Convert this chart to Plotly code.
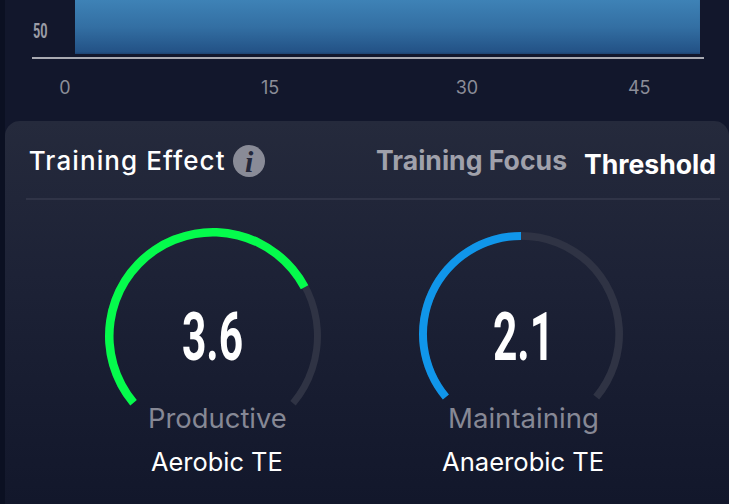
import numpy as np
import plotly.graph_objects as go

W, H = 729, 504
# ---- data
bar_start = [0.78]
bar_end = [49.76]
bar_value = [160]
x_tick_labels = ["0", "15", "30", "45"]
x_tick_pos = [0, 16.07, 31.5, 45]
y_tick_vals = [50]
gauge_values = ["3.6", "2.1"]
gauge_fill_deg = [192, 130]
gauge_status = ["Productive", "Maintaining"]
gauge_names = ["Aerobic TE", "Anaerobic TE"]
gauge_colors = ["#05fb4c", "#1096ea"]
GAUGE_SPAN = 260

BG = "#12172c"
def px(x): return x / W
def py(y): return 1 - y / H

fig = go.Figure()

# bar
mid = (bar_start[0] + bar_end[0]) / 2
fig.add_trace(go.Bar(x=[mid], y=bar_value, width=[bar_end[0] - bar_start[0]],
                     marker=dict(color="#2f6a9f", line=dict(width=0)), xaxis="x", yaxis="y",
                     hoverinfo="skip"))
YTOP = 117.4
fig.add_trace(go.Scatter(
    x=[bar_start[0], bar_end[0], bar_end[0], bar_start[0], bar_start[0]],
    y=[0, 0, bar_value[0], bar_value[0], 0], mode="none", fill="toself",
    fillgradient=dict(type="vertical", start=YTOP, stop=0,
                      colorscale=[[0, "#3e82b6"], [0.5, "#336fa3"], [0.96, "#235286"], [1, "#1d4270"]]),
    xaxis="x", yaxis="y", hoverinfo="skip"))

# panel background on a pixel axis
R = 15
L, T, RR, B = 5, 121, 729, 520
a = np.linspace(0, np.pi / 2, 12)
xs = list(L + R - R * np.cos(a)) + list(RR - R + R * np.sin(a)) + [RR, L, L]
ys = list(T + R - R * np.sin(a)) + list(T + R - R * np.cos(a)) + [B, B, T + R]
fig.add_trace(go.Scatter(
    x=xs, y=ys, mode="none", fill="toself",
    fillgradient=dict(type="vertical", start=T, stop=504,
                      colorscale=[[0, "#252a3c"], [0.4, "#1d2236"], [1, "#12172b"]]),
    xaxis="x2", yaxis="y2", hoverinfo="skip"))

# gauges (track then value)
centers = [(213, 336, 108), (521, 334, 102)]
holes = [0.921, 0.922]
track_holes = [0.935, 0.925]
for i, (cx, cy, r) in enumerate(centers):
    dom = dict(x=[px(cx - r), px(cx + r)], y=[py(cy + r), py(cy - r)])
    gap = 360 - GAUGE_SPAN
    fig.add_trace(go.Pie(values=[GAUGE_SPAN, gap], domain=dom, hole=track_holes[i], sort=False,
                         direction="clockwise", rotation=230, textinfo="none", hoverinfo="skip",
                         showlegend=False,
                         marker=dict(colors=["#2f3344", "rgba(0,0,0,0)"], line=dict(width=0))))
    fig.add_trace(go.Pie(values=[gauge_fill_deg[i], 360 - gauge_fill_deg[i]], domain=dom, hole=holes[i],
                         sort=False, direction="clockwise", rotation=230, textinfo="none",
                         hoverinfo="skip", showlegend=False,
                         marker=dict(colors=[gauge_colors[i], "rgba(0,0,0,0)"], line=dict(width=0))))

def txt(x, y, s, size, color, fam="Inter", anchor="center", weight=None, style=None):
    return dict(x=px(x), y=py(y), xref="paper", yref="paper", text=s, showarrow=False,
                xanchor=anchor, yanchor="middle",
                font=dict(family=fam, size=size, color=color, weight=weight, style=style))

anns = [
    txt(34.5, 160, "Training Effect", 26, "#ffffff", anchor="left", weight=500),
    txt(249, 161, "i", 30, "#23273a", fam="Liberation Serif", weight=700, style="italic"),
    txt(374, 160, "Training Focus", 26.6, "#a0a1ab", anchor="left", weight=700),
    txt(582, 164, "Threshold", 26.6, "#ffffff", anchor="left", weight=700),
]
label_x = [217, 523]
value_x = [212, 523]
status_size = [27.4, 27.6]
name_size = [25.4, 25.6]
for i in range(2):
    anns.append(txt(value_x[i], 336, gauge_values[i], 67.5, "#ffffff", fam="Roboto", weight=700))
    anns.append(txt(label_x[i], 418, gauge_status[i], status_size[i], "#868895"))
    anns.append(txt(label_x[i], 461.5, gauge_names[i], name_size[i], "#ffffff"))

shapes = [
    dict(type="rect", xref="paper", yref="paper", x0=0, x1=px(5), y0=0, y1=1,
         fillcolor="#0b1022", line_width=0, layer="below"),
    dict(type="line", xref="paper", yref="paper", x0=px(26), x1=px(720), y0=py(199), y1=py(199),
         line=dict(color="#363a4d", width=1.5)),
    dict(type="circle", xref="paper", yref="paper", x0=px(233), x1=px(265), y0=py(177), y1=py(145),
         fillcolor="#898b97", line_width=0),
]

fig.update_layout(
    width=W, height=H, margin=dict(l=0, r=0, t=0, b=0), showlegend=False,
    paper_bgcolor=BG, plot_bgcolor="rgba(0,0,0,0)", barmode="overlay",
    annotations=anns, shapes=shapes,
    xaxis=dict(domain=[px(32), px(704)], range=[-2.59, 50.08], tickvals=x_tick_pos, ticktext=x_tick_labels,
               showgrid=False, zeroline=False, showline=True, linecolor="#a9aab2", linewidth=1.5,
               ticks="", ticklabelstandoff=14, tickfont=dict(family="Inter", size=18, color="#8b8d98"),
               anchor="y", fixedrange=True),
    yaxis=dict(domain=[py(57), 1], range=[-6.5, YTOP], tickvals=y_tick_vals, ticktext=["50"],
               showgrid=False, zeroline=False, showline=False, ticks="", ticklabelposition="inside",
               tickfont=dict(family="Roboto", size=19.5, color="#9a9ca6", weight=700),
               anchor="x", fixedrange=True),
    xaxis2=dict(domain=[0, 1], range=[0, W], visible=False, anchor="y2", fixedrange=True),
    yaxis2=dict(domain=[0, 1], range=[H, 0], visible=False, anchor="x2", fixedrange=True),
)
post = """
document.body.style.margin='0';document.body.style.overflow='hidden';
document.querySelectorAll('svg text').forEach(function(t){
  var s=t.textContent.trim();
  if(s==='3.6'||s==='2.1'){t.style.transformBox='fill-box';t.style.transformOrigin='center';t.style.transform='scaleX(0.63)';}
  if(s==='50'){
    var x=parseFloat(t.getAttribute('x'))||0, o=t.getAttribute('transform')||'';
    t.setAttribute('transform', o+' translate('+(x-2)+',0) scale(0.65,1) translate('+(-x)+',0)');
  }
  if(s==='Training Effect'){t.style.letterSpacing='1.1px';}
});
"""
fig.write_html("out.html", config=dict(displayModeBar=False), post_script=post)
